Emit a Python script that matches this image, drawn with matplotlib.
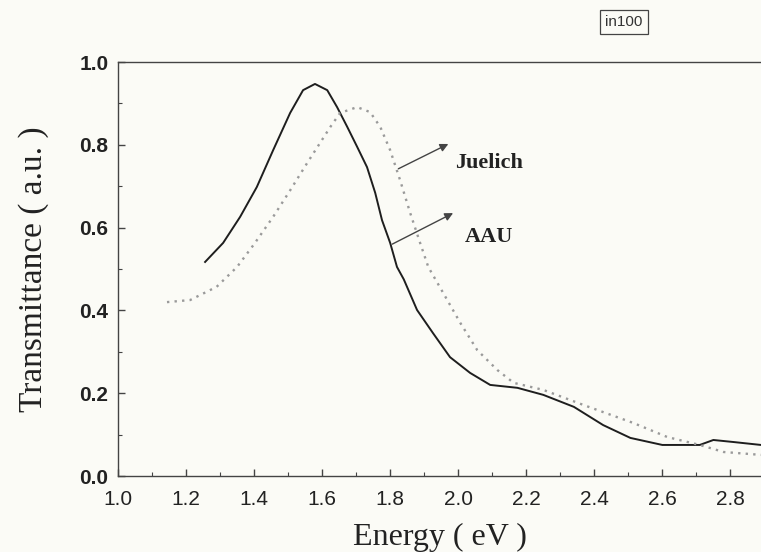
import matplotlib
matplotlib.use("Agg")
import matplotlib.pyplot as plt
from matplotlib.ticker import MultipleLocator, FormatStrFormatter

# AAU (solid)
aau_x = [1.256, 1.309, 1.359, 1.408, 1.456, 1.506, 1.544, 1.579, 1.615, 1.644,
         1.674, 1.703, 1.732, 1.756, 1.776, 1.800, 1.820, 1.840, 1.879, 1.926,
         1.976, 2.035, 2.094, 2.174, 2.250, 2.340, 2.426, 2.506, 2.600, 2.710,
         2.750, 2.810, 2.890]
aau_y = [0.517, 0.563, 0.626, 0.698, 0.787, 0.877, 0.932, 0.947, 0.932, 0.891,
         0.843, 0.795, 0.746, 0.684, 0.618, 0.563, 0.505, 0.475, 0.401, 0.345,
         0.287, 0.249, 0.220, 0.213, 0.196, 0.167, 0.123, 0.092, 0.075, 0.075,
         0.087, 0.082, 0.075]

# Juelich (dotted)
jue_x = [1.144, 1.212, 1.290, 1.350, 1.400, 1.456, 1.506, 1.556, 1.624, 1.653,
         1.703, 1.741, 1.771, 1.800, 1.829, 1.859, 1.888, 1.912, 1.956, 2.006,
         2.056, 2.115, 2.163, 2.250, 2.370, 2.515, 2.615, 2.710, 2.780, 2.890]
jue_y = [0.420, 0.425, 0.457, 0.505, 0.560, 0.626, 0.690, 0.756, 0.843, 0.877,
         0.891, 0.879, 0.843, 0.787, 0.715, 0.635, 0.563, 0.505, 0.442, 0.370,
         0.304, 0.256, 0.225, 0.208, 0.171, 0.128, 0.094, 0.075, 0.058, 0.051]

x_ticks = [1.0, 1.2, 1.4, 1.6, 1.8, 2.0, 2.2, 2.4, 2.6, 2.8]
y_ticks = [0.0, 0.2, 0.4, 0.6, 0.8, 1.0]

bg = "#fbfbf6"
fig = plt.figure(figsize=(7.61, 5.52), dpi=100, facecolor=bg)
ax = fig.add_axes([118/761, 1-476/552, 1-118/761, (476-62)/552], facecolor=bg)

ax.plot(aau_x, aau_y, color="#1e1e1e", lw=1.4, solid_joinstyle="round")
ax.plot(jue_x, jue_y, color="#9a9a9a", lw=1.7, linestyle=(0, (1, 2.2)))

ax.set_xlim(1.0, 2.89)
ax.set_ylim(0.0, 1.0)
ax.set_xticks(x_ticks)
ax.set_yticks(y_ticks)
ax.xaxis.set_minor_locator(MultipleLocator(0.1))
ax.yaxis.set_minor_locator(MultipleLocator(0.1))
ax.xaxis.set_major_formatter(FormatStrFormatter("%.1f"))
ax.yaxis.set_major_formatter(FormatStrFormatter("%.1f"))

ax.spines["right"].set_visible(False)
for s in ["left", "bottom", "top"]:
    ax.spines[s].set_color("#444444")
    ax.spines[s].set_linewidth(1.0)

ax.tick_params(which="major", direction="in", length=5, width=1, color="#444444")
ax.tick_params(which="minor", direction="in", length=3, width=0.8, color="#444444")
ax.tick_params(axis="x", which="both", top=False, pad=10)
ax.tick_params(axis="y", which="both", right=False, pad=7)

for lab in ax.get_xticklabels():
    lab.set_fontfamily("Liberation Sans")
    lab.set_fontsize(15)
    lab.set_color("#222222")
for lab in ax.get_yticklabels():
    lab.set_fontfamily("Liberation Sans")
    lab.set_fontsize(15)
    lab.set_fontweight("bold")
    lab.set_color("#222222")

ax.set_xlabel("Energy ( eV )", fontfamily="Liberation Serif", fontsize=23,
              color="#222222", labelpad=10)
ax.set_ylabel("Transmittance ( a.u. )", fontfamily="Liberation Serif", fontsize=24,
              color="#222222", labelpad=22)

ax.annotate("", xy=(1.971, 0.802), xytext=(1.824, 0.742),
            arrowprops=dict(arrowstyle="-|>", color="#444444", lw=1.0,
                            mutation_scale=12, shrinkA=0, shrinkB=0))
ax.annotate("", xy=(1.985, 0.635), xytext=(1.806, 0.560),
            arrowprops=dict(arrowstyle="-|>", color="#444444", lw=1.0,
                            mutation_scale=12, shrinkA=0, shrinkB=0))
ax.text(1.991, 0.756, "Juelich", fontfamily="Liberation Serif", fontsize=16,
        fontweight="bold", color="#222222", va="center", ha="left")
ax.text(2.02, 0.577, "AAU", fontfamily="Liberation Serif", fontsize=16,
        fontweight="bold", color="#222222", va="center", ha="left")

fig.text(624/761, 1-22/552, "in100", fontfamily="Liberation Sans", fontsize=11,
         color="#333333", ha="center", va="center",
         bbox=dict(boxstyle="square,pad=0.35", fc=bg, ec="#444444", lw=0.9))

fig.savefig("out.png", dpi=100, facecolor=bg)
